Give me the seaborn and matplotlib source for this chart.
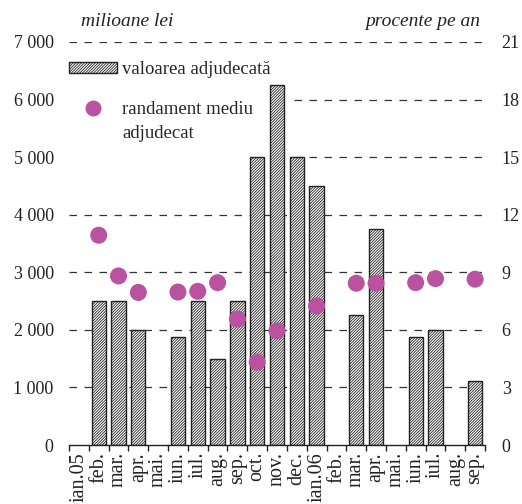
import matplotlib
matplotlib.use("Agg")
import matplotlib.pyplot as plt
from matplotlib.lines import Line2D
from matplotlib.patches import Patch, Rectangle
from matplotlib.ticker import FuncFormatter, FixedLocator
import numpy as np
import pandas as pd
import seaborn as sns

# Monthly categories, Jan 2005 - Sep 2006
months = ["ian.05", "feb.", "mar.", "apr.", "mai.", "iun.", "iul.", "aug.",
          "sep.", "oct.", "nov.", "dec.", "ian.06", "feb.", "mar.", "apr.",
          "mai.", "iun.", "iul.", "aug.", "sep."]

# Awarded value, million lei (NaN = no auction)
awarded = [np.nan, 2500, 2500, 2000, np.nan, 1875, 2500, 1500,
           2500, 5000, 6250, 5000, 4500, np.nan, 2250, 3750,
           np.nan, 1875, 2000, np.nan, 1110]

# Average awarded yield, percent per year
yield_pct = [np.nan, 10.93, 8.81, 7.95, np.nan, 7.97, 8.01, 8.46,
             6.56, 4.32, 5.95, np.nan, 7.24, np.nan, 8.43, 8.43,
             np.nan, 8.46, 8.67, np.nan, 8.64]

left_ticks = [0, 1000, 2000, 3000, 4000, 5000, 6000, 7000]
right_ticks = [0, 3, 6, 9, 12, 15, 18, 21]

dot_color = "#B9529F"
ink = "#222222"
bar_hatch = "////////////"

sns.set_theme(style="white")
plt.rcParams["font.family"] = ["Liberation Serif", "DejaVu Serif"]
plt.rcParams["hatch.linewidth"] = 0.6
plt.rcParams["hatch.color"] = "#333333"

df = pd.DataFrame({"pos": range(len(months)), "awarded": awarded, "yield": yield_pct})

fig = plt.figure(figsize=(5.22, 5.04), dpi=100)
ax = fig.add_axes([69 / 522, 59 / 504, 416 / 522, 403 / 504])

sns.barplot(data=df, x="pos", y="awarded", ax=ax, color="white",
            edgecolor=ink, linewidth=1.0, width=0.72, hatch=bar_hatch,
            saturation=1, errorbar=None, zorder=2)

ax.set_xlim(-0.5, len(months) - 0.5)
ax.set_ylim(0, 7000)
ax.set_yticks(left_ticks)
ax.yaxis.set_major_formatter(FuncFormatter(lambda v, _: f"{int(v):,}".replace(",", " ")))
for t in left_ticks[1:]:
    ax.axhline(t, color="#333333", linewidth=0.9, linestyle=(0, (6, 6)), zorder=0)

# white background behind the legend block hides the gridlines there
ax.add_patch(Rectangle((-0.022, 0.69), 0.546, 0.295, transform=ax.transAxes,
                       facecolor="white", edgecolor="none", zorder=1))

ax.set_xticks(range(len(months)))
ax.set_xticklabels(months, rotation=90, fontsize=14.5, va="top", ha="center")
ax.xaxis.set_minor_locator(FixedLocator(np.arange(-0.5, len(months), 1.0)))
ax.tick_params(axis="x", which="major", length=0, pad=5, colors=ink)
ax.tick_params(axis="x", which="minor", length=4, width=1, color=ink, direction="out", bottom=True)
ax.tick_params(axis="y", length=0, labelsize=13, pad=11, colors=ink)
ax.set_xlabel("")
ax.set_ylabel("")
for side in ["top", "left", "right"]:
    ax.spines[side].set_visible(False)
ax.spines["bottom"].set_color(ink)
ax.spines["bottom"].set_linewidth(1.0)
ax.spines["bottom"].set_zorder(3)

# legend: bar entry, then dot entry with a two-line label
leg1 = ax.legend([Patch(facecolor="white", edgecolor=ink, hatch=bar_hatch, linewidth=1.0)],
                 ["valoarea adjudecată"], loc="upper left", bbox_to_anchor=(0.0, 0.952),
                 frameon=False, fontsize=13.5, handlelength=2.56, handleheight=0.55,
                 handletextpad=0.28, borderpad=0, borderaxespad=0)
leg1.set_zorder(1.5)
ax.add_artist(leg1)
leg2 = ax.legend([Line2D([], [], marker="o", linestyle="none", markersize=11.5,
                         markerfacecolor=dot_color, markeredgecolor="none"),
                  Line2D([], [], linestyle="none")],
                 ["randament mediu", "adjudecat"], loc="upper left",
                 bbox_to_anchor=(0.0, 0.853), frameon=False, fontsize=13.5,
                 handlelength=2.56, handletextpad=0.28, labelspacing=0.37,
                 borderpad=0, borderaxespad=0)
leg2.set_zorder(1.5)

ax2 = ax.twinx()
sns.scatterplot(data=df, x="pos", y="yield", ax=ax2, color=dot_color, s=150,
                edgecolor="none", zorder=5)
ax2.set_ylim(0, 21)
ax2.set_yticks(right_ticks)
ax2.tick_params(axis="y", length=0, labelsize=13, pad=12, colors=ink)
ax2.set_ylabel("")
for side in ["top", "left", "right", "bottom"]:
    ax2.spines[side].set_visible(False)
ax.set_xlim(-0.5, len(months) - 0.5)

fig.text(81 / 522, 1 - 22 / 504, "milioane lei", fontsize=14, style="italic",
         color=ink, va="center", ha="left")
fig.text(480 / 522, 1 - 22 / 504, "procente pe an", fontsize=14, style="italic",
         color=ink, va="center", ha="right")

fig.savefig("out.png", dpi=100)
